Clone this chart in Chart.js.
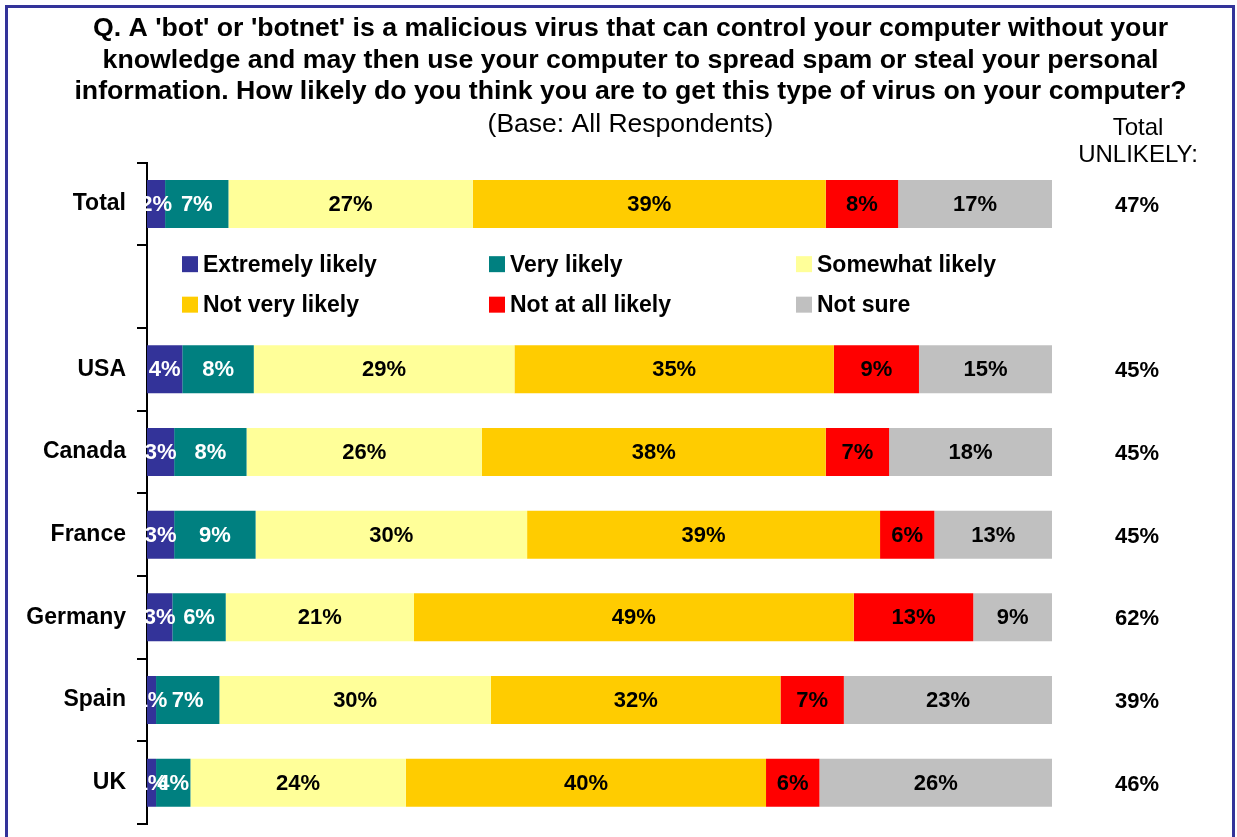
<!DOCTYPE html>
<html>
<head>
<meta charset="utf-8">
<script src="https://cdn.jsdelivr.net/npm/chart.js@4.4.0/dist/chart.umd.min.js"></script>
<style>
  html, body { margin: 0; padding: 0; background: #fff; }
  #wrap { position: relative; width: 1237px; height: 837px; overflow: hidden; background: #fff; }
  #botChart { position: absolute; left: 0; top: 0; }
  #frame { position: absolute; left: 5px; top: 5px; width: 1224px; height: 900px; border: 3px solid #333399; pointer-events: none; }
</style>
</head>
<body>
<div id="wrap">
  <canvas id="botChart" width="1237" height="837"></canvas>
  <div id="frame"></div>
</div>
<script>
// survey answers per country (%), second row left empty for the legend
const countries = ['Total', '', 'USA', 'Canada', 'France', 'Germany', 'Spain', 'UK'];
const extremelyLikely = [2, null, 3.9, 3, 3, 2.8, 1, 1];
const veryLikely      = [7, null, 7.9, 8, 9, 5.9, 7, 3.8];
const somewhatLikely  = [27, null, 28.8, 26, 30, 20.8, 30, 23.8];
const notVeryLikely   = [39, null, 35.3, 38, 39, 48.6, 32, 39.8];
const notAtAllLikely  = [8, null, 9.4, 7, 6, 13.2, 7, 5.9];
const notSure         = [17, null, 14.7, 18, 13, 8.7, 23, 25.7];
const totalUnlikely   = [47, null, 45, 45, 45, 62, 39, 46];

const seriesNames = ['Extremely likely', 'Very likely', 'Somewhat likely', 'Not very likely', 'Not at all likely', 'Not sure'];
const seriesData = [extremelyLikely, veryLikely, somewhatLikely, notVeryLikely, notAtAllLikely, notSure];
const seriesColors = ['#333399', '#008080', '#FFFF99', '#FFCC00', '#FF0000', '#C0C0C0'];
const labelColors = ['#fff', '#fff', '#000', '#000', '#000', '#000'];

const FONT = "'Liberation Sans', Arial, sans-serif";

// % text in the middle of each segment
const segmentLabels = {
    id: 'segmentLabels',
    afterDatasetsDraw(chart) {
        const ctx = chart.ctx;
        ctx.save();
        ctx.font = 'bold 22px ' + FONT;
        ctx.textAlign = 'center';
        ctx.textBaseline = 'middle';
        chart.data.datasets.forEach((ds, i) => {
            const meta = chart.getDatasetMeta(i);
            ctx.fillStyle = labelColors[i];
            meta.data.forEach((bar, j) => {
                const v = ds.data[j];
                if (v == null) return;
                ctx.fillText(Math.round(v) + '%', (bar.x + bar.base) / 2, bar.y + 1);
            });
        });
        ctx.restore();
    }
};

// legend sits in the empty row under "Total", plus the header of the right column
const legendAndHeader = {
    id: 'legendAndHeader',
    afterDraw(chart) {
        const ctx = chart.ctx;
        const area = chart.chartArea;
        const mid = chart.scales.y.getPixelForValue(1);
        const rows = [mid - 22.5, mid + 18];
        const cols = [35, 342, 649];
        ctx.save();
        ctx.font = 'bold 23px ' + FONT;
        ctx.textBaseline = 'middle';
        ctx.textAlign = 'left';
        chart.data.datasets.forEach((ds, i) => {
            const x = area.left + cols[i % 3];
            const y = rows[Math.floor(i / 3)];
            ctx.fillStyle = ds.backgroundColor;
            ctx.fillRect(x, y - 8, 16, 16);
            ctx.fillStyle = '#000';
            ctx.fillText(ds.label, x + 21, y + 1);
        });

        ctx.font = '24px ' + FONT;
        ctx.textAlign = 'center';
        ctx.fillText('Total', area.right + 86, 128);
        ctx.fillText('UNLIKELY:', area.right + 86, 155);
        ctx.restore();
    }
};

// fixed axis widths; drop the label padding so it doesn't shrink the plot vertically
function fixWidth(w) {
    return (s) => { s.width = w; s.paddingTop = 0; s.paddingBottom = 0; };
}

const ctx = document.getElementById('botChart').getContext('2d');
new Chart(ctx, {
    type: 'bar',
    data: {
        labels: countries,
        datasets: seriesNames.map((name, i) => ({
            label: name,
            data: seriesData[i],
            backgroundColor: seriesColors[i],
            borderWidth: 0,
            categoryPercentage: 0.58,
            barPercentage: 1
        }))
    },
    options: {
        indexAxis: 'y',
        responsive: false,
        animation: false,
        layout: { padding: { left: 24, top: 0, right: 0, bottom: 13 } },
        plugins: {
            legend: { display: false },
            tooltip: { enabled: false },
            title: {
                display: true,
                text: [
                    "Q. A 'bot' or 'botnet' is a malicious virus that can control your computer without your",
                    'knowledge and may then use your computer to spread spam or steal your personal',
                    'information. How likely do you think you are to get this type of virus on your computer?'
                ],
                color: '#000',
                font: { family: FONT, size: 26.7, weight: 'bold', lineHeight: 1.18 },
                padding: { top: 13, bottom: 0 }
            },
            subtitle: {
                display: true,
                text: '(Base: All Respondents)',
                color: '#000',
                font: { family: FONT, size: 26.5, weight: 'normal', lineHeight: 1.1 },
                padding: { top: 3, bottom: 23 }
            }
        },
        scales: {
            x: { stacked: true, min: 0, max: 100, display: false },
            y: {
                stacked: true,
                grid: { display: true, drawOnChartArea: false, drawTicks: true, tickLength: 10, color: '#000', lineWidth: 2 },
                border: { display: true, color: '#000', width: 2 },
                ticks: { color: '#000', padding: 11, autoSkip: false, font: { family: FONT, size: 23, weight: 'bold' } },
                afterFit: fixWidth(123)
            },
            y2: {
                type: 'category',
                position: 'right',
                offset: true,
                grid: { display: false, drawTicks: false },
                border: { display: false },
                ticks: {
                    color: '#000',
                    padding: 63,
                    labelOffset: 2,
                    autoSkip: false,
                    font: { family: FONT, size: 22, weight: 'bold' },
                    callback: (v, i) => totalUnlikely[i] == null ? '' : totalUnlikely[i] + '%'
                },
                afterFit: fixWidth(185)
            }
        }
    },
    plugins: [segmentLabels, legendAndHeader]
});
</script>
</body>
</html>
